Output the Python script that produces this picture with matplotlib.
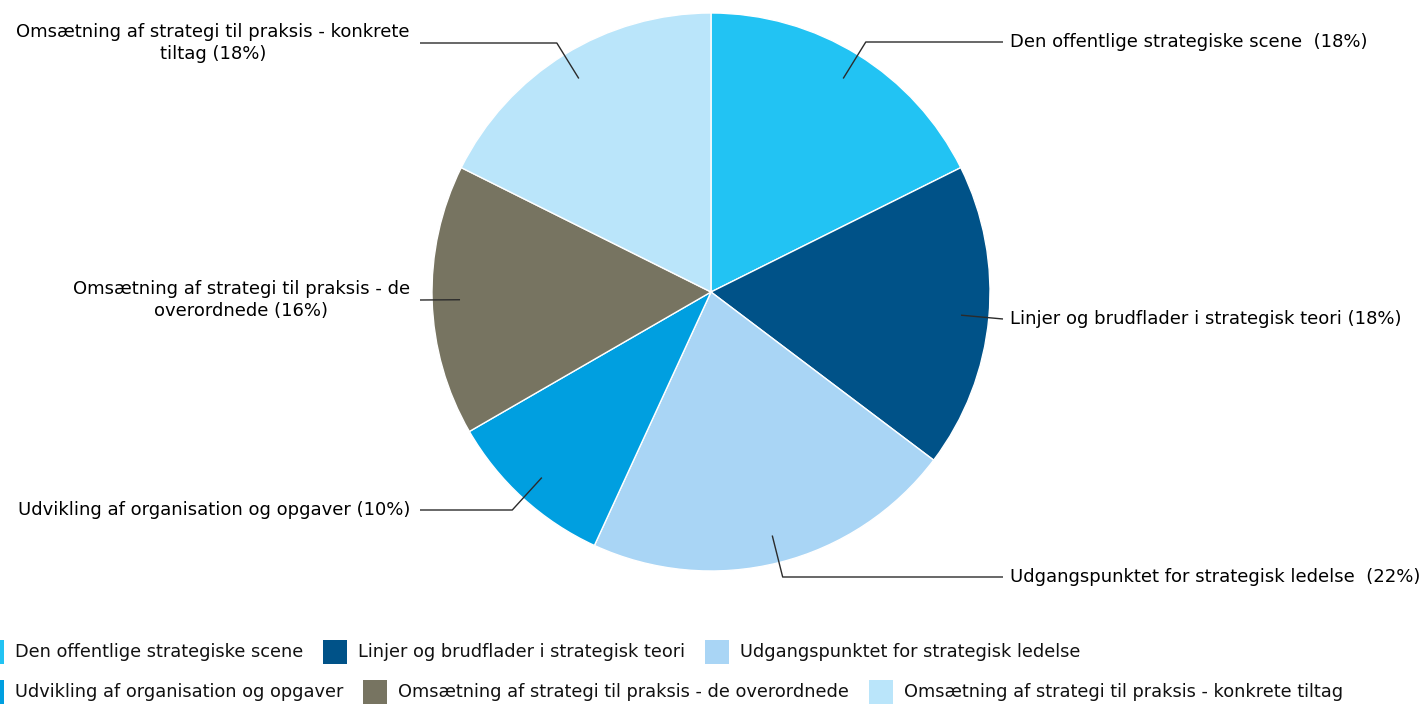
import matplotlib
matplotlib.use("Agg")
import matplotlib.pyplot as plt
from matplotlib.patches import Rectangle
import numpy as np

# data
names = ["Den offentlige strategiske scene ", "Linjer og brudflader i strategisk teori",
         "Udgangspunktet for strategisk ledelse ", "Udvikling af organisation og opgaver",
         "Omsætning af strategi til praksis - de overordnede",
         "Omsætning af strategi til praksis - konkrete tiltag"]
values = [9, 9, 11, 5, 8, 9]
colors = ["#22c3f3", "#005288", "#a9d5f5", "#009fe0", "#777461", "#bae5fa"]

W, H = 1426, 705
cx, cy, R = 711, 292, 279
fs = 13

fig = plt.figure(figsize=(W / 100, H / 100), dpi=100)
ax = fig.add_axes([0, 0, 1, 1])

wedges, _ = ax.pie(values, colors=colors, startangle=90, counterclock=False,
                   radius=R, center=(cx, H - cy),
                   wedgeprops=dict(edgecolor="white", linewidth=1))
ax.set_xlim(0, W)
ax.set_ylim(0, H)
ax.set_aspect("auto")
ax.axis("off")

# label layout (screen y of label, side)
label_y = [42, 319, 577, 510, 300, 43]
label_txt = []
total = sum(values)
for i, n in enumerate(names):
    pct = round(100 * values[i] / total)
    if i == 4:
        label_txt.append("Omsætning af strategi til praksis - de\noverordnede (%d%%)" % pct)
    elif i == 5:
        label_txt.append("Omsætning af strategi til praksis - konkrete\ntiltag (%d%%)" % pct)
    else:
        label_txt.append("%s (%d%%)" % (n, pct))

for i, w in enumerate(wedges):
    mid = np.deg2rad((w.theta1 + w.theta2) / 2)
    c, s = np.cos(mid), np.sin(mid)
    ax_, ay_ = cx + 0.9 * R * c, (H - cy) + 0.9 * R * s
    ly = H - label_y[i]
    right = c > 0
    end_x = 1003 if right else 420
    if abs(s) > 0.3:
        t = (ly - ay_) / s
        ex, ey = ax_ + t * c, ly
        xs, ys = [ax_, ex, end_x], [ay_, ey, ly]
    else:
        xs, ys = [ax_, end_x], [ay_, ly]
    ax.plot(xs, ys, color="#2b2b2b", lw=1, solid_capstyle="butt")
    if right:
        ax.text(1010, ly, label_txt[i], ha="left", va="center", fontsize=fs, color="black")
    else:
        ax.text(410, ly, label_txt[i], ha="right", va="center", fontsize=fs,
                color="black", multialignment="center", linespacing=1.3)

# legend, flowing like the original
fig.canvas.draw()
renderer = fig.canvas.get_renderer()
rows = [[0, 1, 2], [3, 4, 5]]
row_y = [652, 692]
msize = 24
for r, items in enumerate(rows):
    x = -20
    for i in items:
        y = H - row_y[r]
        ax.add_patch(Rectangle((x, y - msize / 2), msize, msize, facecolor=colors[i],
                               edgecolor="none", clip_on=False))
        t = ax.text(x + msize + 11, y, names[i].strip(), ha="left", va="center",
                    fontsize=12.8, color="#111111")
        bb = t.get_window_extent(renderer)
        x = x + msize + 11 + bb.width + 20

fig.savefig("out.png", dpi=100, facecolor="white")
